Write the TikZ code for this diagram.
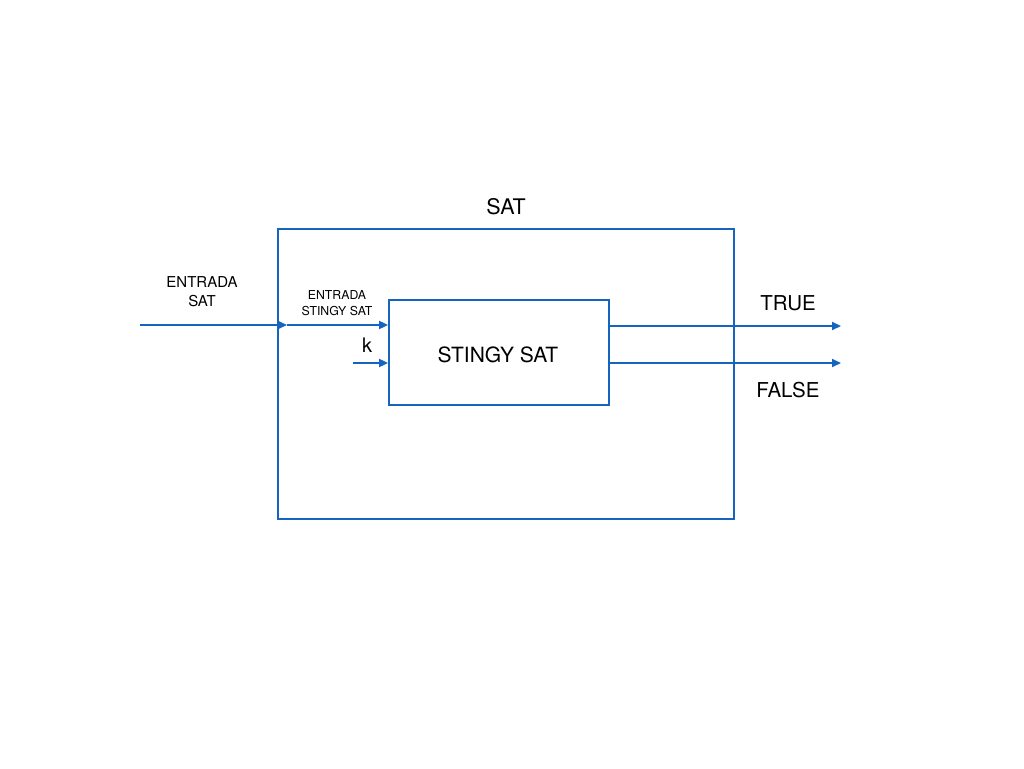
\documentclass[tikz,border=0pt]{standalone}
\usepackage{fontspec}
\setmainfont{TeX Gyre Heros}
\usetikzlibrary{arrows.meta}
\definecolor{lineblue}{RGB}{21,101,192}
\begin{document}
\begin{tikzpicture}[x=1pt,y=-1pt,
  box/.style={draw=lineblue,line width=1.8pt,inner sep=0pt},
  conn/.style={draw=lineblue,line width=1.8pt,-{Triangle[length=9pt,width=8pt]}},
  lbl/.style={inner sep=0pt,align=center,text=black}]
\useasboundingbox (0,0) rectangle (1024,768);
\node[box,minimum width=456pt,minimum height=290pt] (outer) at (506,374) {};
\node[box,minimum width=220pt,minimum height=105pt] (inner) at (499,352.5) {};
\node[lbl,font=\fontsize{21}{21}\selectfont] (stlbl) at (498,355) {STINGY SAT};
\node[lbl,font=\fontsize{21.5}{21}\selectfont] (sat) at (506,207) {SAT};
\node[lbl,font=\fontsize{15}{19}\selectfont] (entsat) at (202,292) {ENTRADA\\SAT};
\node[lbl,font=\fontsize{12.3}{16}\selectfont] (entst) at (337,303) {ENTRADA\\STINGY SAT};
\node[lbl,font=\fontsize{20}{20}\selectfont] (k) at (367,345) {k};
\node[lbl,font=\fontsize{20.5}{20}\selectfont] (true) at (788,303) {TRUE};
\node[lbl,font=\fontsize{20.5}{20}\selectfont] (false) at (788,390) {FALSE};
\coordinate (in0) at (140,325);
\coordinate (in1) at (287,325);
\coordinate (s0) at (287,325);
\coordinate (k0) at (353,363);
\coordinate (t1) at (841,326);
\coordinate (f1) at (841,363);
\draw[conn] (in0) -- (in1);
\draw[conn] (s0) -- (inner.west |- s0);
\draw[conn] (k0) -- (inner.west |- k0);
\draw[conn] (inner.east |- t1) -- (t1);
\draw[conn] (inner.east |- f1) -- (f1);
\end{tikzpicture}
\end{document}
